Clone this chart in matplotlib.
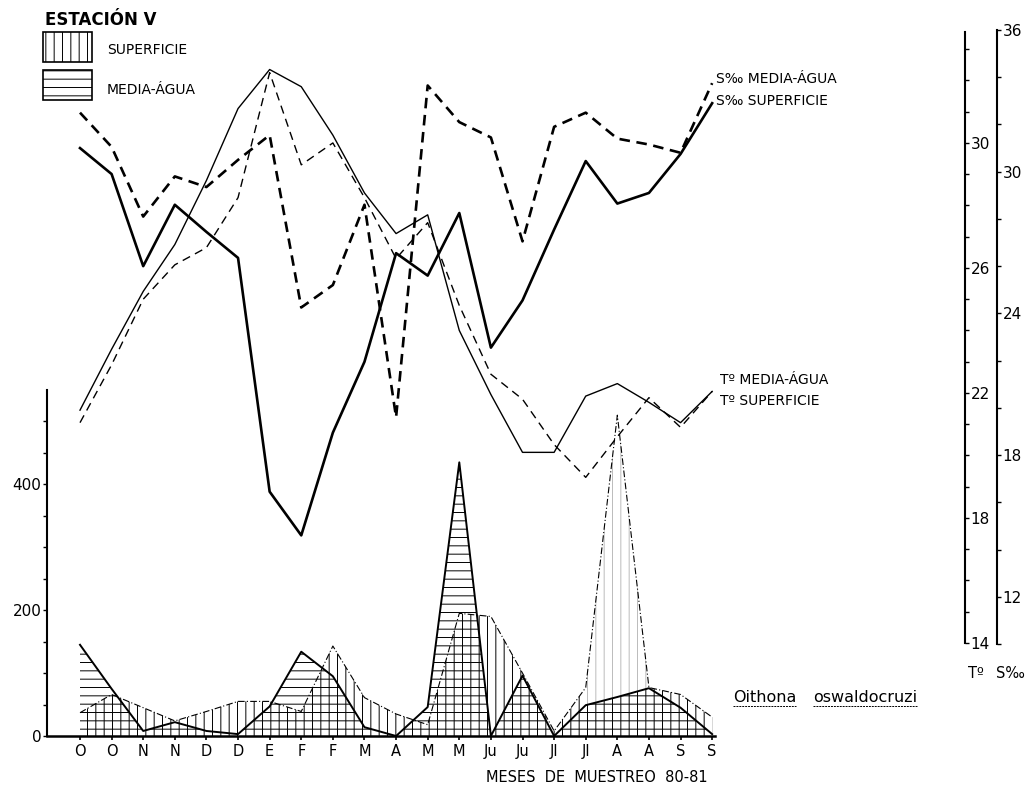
import matplotlib
matplotlib.use('Agg')
import matplotlib.pyplot as plt
from matplotlib.patches import Rectangle
from matplotlib.lines import Line2D
import numpy as np

# sampling months, Oct 1980 - Sep 1981 (two samples per month)
months = ['O', 'O', 'N', 'N', 'D', 'D', 'E', 'F', 'F', 'M', 'A',
          'M', 'M', 'Ju', 'Ju', 'Jl', 'Jl', 'A', 'A', 'S', 'S']

# salinity (per mil)
sal_sup = [31.0, 29.9, 26.0, 28.6, 27.45, 26.35, 16.45, 14.6, 18.95, 21.95, 26.55,
           25.6, 28.25, 22.55, 24.55, 27.55, 30.45, 28.65, 29.1, 30.75, 32.9]
sal_med = [32.5, 31.05, 28.1, 29.8, 29.35, 30.5, 31.55, 24.25, 25.2, 28.6, 19.6,
           33.65, 32.1, 31.45, 27.05, 31.9, 32.5, 31.4, 31.15, 30.8, 33.75]

# temperature (deg C)
temp_sup = [21.45, 23.4, 25.25, 26.75, 28.8, 31.1, 32.35, 31.8, 30.25, 28.4, 27.1,
            27.7, 24.0, 21.95, 20.1, 20.1, 21.9, 22.3, 21.7, 21.05, 22.05]
temp_med = [21.05, 22.9, 25.0, 26.1, 26.65, 28.25, 32.25, 29.3, 30.0, 28.25, 26.3,
            27.45, 24.8, 22.6, 21.8, 20.35, 19.3, 20.6, 21.85, 20.9, 22.05]

# Oithona oswaldocruzi abundance
oit_sup = [37, 66, 45, 24, 39, 55, 55, 39, 143, 61, 35,
           18, 195, 190, 100, 8, 77, 510, 77, 66, 30]
oit_med = [145, 75, 8, 22, 8, 3, 47, 134, 95, 14, 0,
           46, 435, 0, 96, 0, 49, 62, 76, 45, 3]

W, H = 1027, 791
plt.rcParams['font.family'] = 'DejaVu Sans'
plt.rcParams['hatch.linewidth'] = 0.7
fig = plt.figure(figsize=(W / 100, H / 100), dpi=100)


def fx(px):
    return px / W


def fy(py):
    return 1 - py / H


x = np.arange(len(months))
xlim = (-1.044, 20.09)
left = fx(47)
width = fx(715) - fx(47)

# --- abundance panel -------------------------------------------------------
ax = fig.add_axes([left, fy(736), width, fy(390) - fy(736)])
ax.patch.set_visible(False)
ax.set_xlim(*xlim)
ax.set_ylim(0, 550)
for s in ['top', 'right']:
    ax.spines[s].set_visible(False)
ax.spines['left'].set_linewidth(1.5)
ax.spines['bottom'].set_linewidth(1.8)
ax.set_yticks(range(0, 501, 50))
ax.set_yticklabels([str(v) if v % 200 == 0 else '' for v in range(0, 501, 50)], fontsize=11)
ax.set_xticks(x)
ax.set_xticklabels(months, fontsize=10.5)
ax.tick_params(axis='y', length=3, width=1, pad=1)
ax.tick_params(axis='x', length=3, width=1.2, pad=3)

sup = np.array(oit_sup, dtype=float)
med = np.array(oit_med, dtype=float)

# surface: vertical hatch (lighter around the August peak)
a, b = 16, 18
ax.fill_between(x[:a + 1], 0, sup[:a + 1], facecolor='none', edgecolor='k',
                hatch='||', linewidth=0)
ax.fill_between(x[b:], 0, sup[b:], facecolor='none', edgecolor='k',
                hatch='||', linewidth=0)
ax.fill_between(x[a:b + 1], 0, med[a:b + 1], facecolor='none', edgecolor='k',
                hatch='||', linewidth=0)
ax.fill_between(x[a:b + 1], med[a:b + 1], sup[a:b + 1], facecolor='none',
                edgecolor='#bbbbbb', hatch='||', linewidth=0)
# mid-water: horizontal hatch
ax.fill_between(x, 0, med, facecolor='none', edgecolor='k', hatch='--', linewidth=0)

ax.plot(x, sup, color='k', lw=0.8, ls=(0, (6, 2, 1, 2)))
ax.plot(x, med, color='k', lw=1.4)
ax.spines['bottom'].set_bounds(xlim[0], 20.09)

# --- temperature ---------------------------------------------------------
ax_t = fig.add_axes([left, fy(643), width, fy(32) - fy(643)])
ax_t.patch.set_visible(False)
ax_t.set_xlim(*xlim)
ax_t.set_ylim(14, 33.55)
ax_t.xaxis.set_visible(False)
for s in ['top', 'left', 'bottom']:
    ax_t.spines[s].set_visible(False)
ax_t.spines['right'].set_position(('axes', (965 - 47) / 668))
ax_t.spines['right'].set_linewidth(1.5)
ax_t.yaxis.tick_right()
t_ticks = list(range(14, 34))
ax_t.set_yticks(t_ticks)
ax_t.set_yticklabels([str(v) if (v - 14) % 4 == 0 else '' for v in t_ticks], fontsize=11)
ax_t.tick_params(axis='y', length=3, width=1, pad=1)

ax_t.plot(x, temp_sup, color='k', lw=1.0)
ax_t.plot(x, temp_med, color='k', lw=1.0, ls=(0, (6, 4)))

# --- salinity --------------------------------------------------------------
ax_s = fig.add_axes([left, fy(644), width, fy(30) - fy(644)])
ax_s.patch.set_visible(False)
ax_s.set_xlim(*xlim)
ax_s.set_ylim(10, 36)
ax_s.xaxis.set_visible(False)
for s in ['top', 'left', 'bottom']:
    ax_s.spines[s].set_visible(False)
ax_s.spines['right'].set_position(('axes', (997 - 47) / 668))
ax_s.spines['right'].set_linewidth(1.5)
ax_s.yaxis.tick_right()
s_ticks = list(range(10, 37, 2))
ax_s.set_yticks(s_ticks)
ax_s.set_yticklabels([str(v) if v % 6 == 0 else '' for v in s_ticks], fontsize=11)
ax_s.tick_params(axis='y', length=3, width=1, pad=1)

ax_s.plot(x, sal_sup, color='k', lw=1.9)
ax_s.plot(x, sal_med, color='k', lw=1.9, ls=(0, (4, 2.5)))

# --- labels ----------------------------------------------------------------
fig.text(fx(45), fy(20), 'ESTACIÓN V', fontsize=12, fontweight='bold', va='center')
fig.add_artist(Rectangle((fx(43), fy(62)), fx(92) - fx(43), fy(32) - fy(62),
                         transform=fig.transFigure, facecolor='none', edgecolor='k',
                         hatch='||', lw=1.2))
fig.add_artist(Rectangle((fx(43), fy(100)), fx(92) - fx(43), fy(70) - fy(100),
                         transform=fig.transFigure, facecolor='none', edgecolor='k',
                         hatch='--', lw=1.2))
fig.text(fx(107), fy(50), 'SUPERFICIE', fontsize=10, va='center')
fig.text(fx(107), fy(90), 'MEDIA-ÁGUA', fontsize=10, va='center')

fig.text(fx(716), fy(79), 'S‰ MEDIA-ÁGUA', fontsize=10, va='center')
fig.text(fx(716), fy(101), 'S‰ SUPERFICIE', fontsize=10, va='center')
fig.text(fx(720), fy(380), 'Tº MEDIA-ÁGUA', fontsize=10, va='center')
fig.text(fx(720), fy(401), 'Tº SUPERFICIE', fontsize=10, va='center')

fig.text(fx(968), fy(673), 'Tº', fontsize=10.5, va='center')
fig.text(fx(996), fy(673), 'S‰', fontsize=10.5, va='center')

fig.text(fx(486), fy(777), 'MESES  DE  MUESTREO  80-81', fontsize=10.5, va='center')

w1 = fig.text(fx(733), fy(697), 'Oithona', fontsize=11.5, va='center')
w2 = fig.text(fx(813), fy(697), 'oswaldocruzi', fontsize=11.5, va='center')
fig.canvas.draw()
for w in (w1, w2):
    bb = w.get_window_extent()
    fig.add_artist(Line2D([bb.x0 / W, bb.x1 / W], [fy(706), fy(706)],
                          transform=fig.transFigure, color='k', lw=0.7, ls=(0, (2, 1))))

fig.savefig('out.png', dpi=100)
